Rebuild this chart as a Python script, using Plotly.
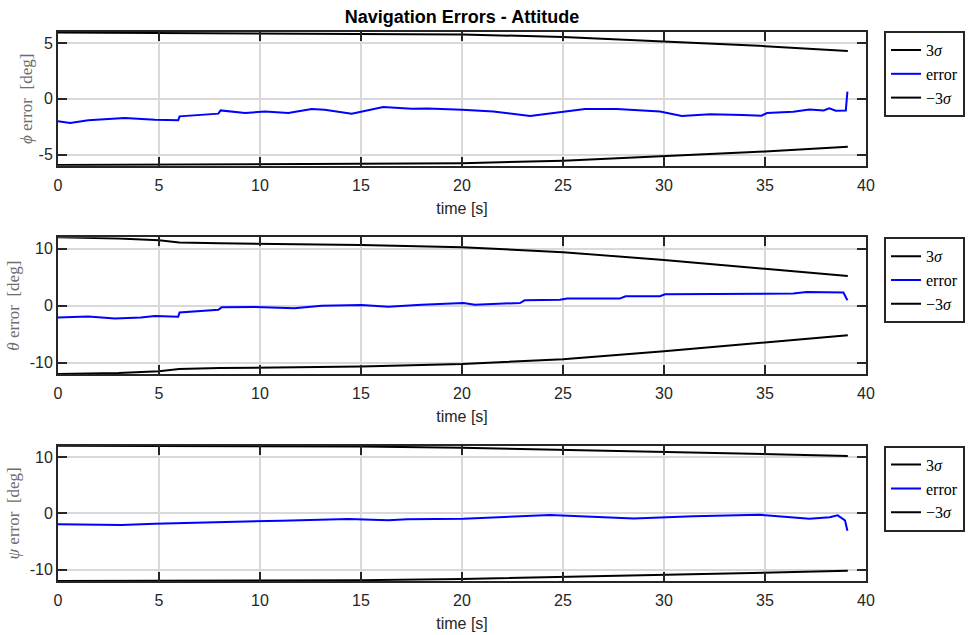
import plotly.graph_objects as go

# ---------------- data ----------------
t_phi_bound = [0, 5, 10, 15, 20, 25, 30, 35, 39.1]
phi_3sig = [5.95, 5.9, 5.88, 5.85, 5.78, 5.55, 5.17, 4.73, 4.29]

t_theta_bound = [0, 2, 3, 5, 6, 8, 10, 15, 20, 25, 30, 35, 39.1]
theta_3sig = [12.0, 11.95, 11.8, 11.5, 11.1, 10.95, 10.85, 10.67, 10.25, 9.4, 8.0, 6.5, 5.2]

t_psi_bound = [0, 5, 10, 15, 20, 25, 30, 35, 39.1]
psi_3sig = [12.0, 11.98, 11.95, 11.85, 11.65, 11.3, 10.95, 10.6, 10.2]

t_phi_err = [0, 0.6, 1.5, 3.3, 4.8, 5.95, 6.02, 7.0, 7.94, 8.05, 9.26, 10.25, 11.4, 12.56,
             13.2, 14.54, 16.1, 17.5, 18.3, 20.0, 21.55, 23.37, 24.85, 26.09, 27.66, 28.5,
             29.8, 30.88, 32.28, 33.9, 34.83, 35.1, 36.4, 37.2, 37.9, 38.18, 38.5, 39.0, 39.08]
phi_err = [-2.0, -2.16, -1.93, -1.72, -1.87, -1.93, -1.57, -1.45, -1.33, -1.04, -1.27, -1.13,
           -1.27, -0.92, -0.98, -1.33, -0.74, -0.89, -0.86, -0.98, -1.13, -1.54, -1.18, -0.92,
           -0.92, -0.98, -1.13, -1.54, -1.39, -1.45, -1.51, -1.27, -1.15, -0.95, -1.04, -0.86,
           -1.07, -1.04, 0.65]

t_theta_err = [0, 1.5, 2.82, 4.1, 4.8, 5.95, 6.02, 7.94, 8.1, 9.75, 11.7, 13.05, 15.03, 16.35,
               18.0, 20.07, 20.64, 22.87, 23.1, 24.85, 25.2, 27.8, 28.1, 29.8, 30.05, 33.1,
               36.4, 37.06, 38.88, 39.08]
theta_err = [-2.07, -1.9, -2.24, -2.07, -1.83, -1.95, -1.18, -0.71, -0.29, -0.24, -0.47, 0.0,
             0.12, -0.18, 0.18, 0.47, 0.18, 0.47, 0.94, 1.06, 1.24, 1.24, 1.65, 1.65, 2.0, 2.0,
             2.12, 2.42, 2.3, 0.94]

t_psi_err = [0, 3.15, 4.8, 7.28, 9.75, 11.07, 14.37, 16.35, 17.3, 20.07, 24.36, 28.5, 31.45,
             34.75, 37.2, 38.2, 38.6, 38.96, 39.08]
psi_err = [-1.94, -2.06, -1.83, -1.66, -1.48, -1.3, -1.0, -1.24, -1.06, -0.95, -0.3, -0.89,
           -0.5, -0.24, -0.94, -0.7, -0.35, -1.24, -3.07]

x_ticks = [0, 5, 10, 15, 20, 25, 30, 35, 40]
phi_ticks = [-5, 0, 5]
phi_ticktext = ["-5", "0", "5"]
big_ticks = [-10, 0, 10]
big_ticktext = ["-10", "0", "10"]

panels = [
    dict(tb=t_phi_bound, sb=phi_3sig, te=t_phi_err, e=phi_err, yr=[-6, 6],
         tv=phi_ticks, tt=phi_ticktext, lab="<i>ϕ</i> error  [deg]", dom=[0.7565, 1.0],
         ly=0.951, so=2),
    dict(tb=t_theta_bound, sb=theta_3sig, te=t_theta_err, e=theta_err, yr=[-12, 12],
         tv=big_ticks, tt=big_ticktext, lab="<i>θ</i> error  [deg]", dom=[0.377, 0.626],
         ly=0.6263, so=6),
    dict(tb=t_psi_bound, sb=psi_3sig, te=t_psi_err, e=psi_err, yr=[-12, 12],
         tv=big_ticks, tt=big_ticktext, lab="<i>ψ</i> error  [deg]", dom=[0.0, 0.2464],
         ly=0.2981, so=6),
]

fig = go.Figure()
axis_col = "#262626"
grid_col = "#d9d9d9"
tick_font = dict(family="Liberation Sans, Arial", size=16, color=axis_col)

for i, p in enumerate(panels):
    n = "" if i == 0 else str(i + 1)
    xa, ya = "x" + n, "y" + n
    leg = "legend" + n
    fig.add_trace(go.Scatter(x=p["tb"], y=p["sb"], mode="lines", name="3<i>σ</i>",
                             line=dict(color="black", width=2), xaxis=xa, yaxis=ya, legend=leg))
    fig.add_trace(go.Scatter(x=p["te"], y=p["e"], mode="lines", name="error",
                             line=dict(color="#0000ff", width=2), xaxis=xa, yaxis=ya, legend=leg))
    fig.add_trace(go.Scatter(x=p["tb"], y=[-v for v in p["sb"]], mode="lines", name="−3<i>σ</i>",
                             line=dict(color="black", width=2), xaxis=xa, yaxis=ya, legend=leg))

    fig.update_layout(**{
        "xaxis" + n: dict(domain=[0, 1], anchor=ya, range=[0, 40], tickvals=x_ticks,
                          ticks="inside", ticklen=9, tickwidth=2, tickcolor=axis_col,
                          showline=True, linecolor=axis_col, linewidth=2, mirror="ticks",
                          showgrid=True, gridcolor=grid_col, gridwidth=1.5, zeroline=False,
                          tickfont=tick_font, ticklabelstandoff=4,
                          title=dict(text="time [s]", font=tick_font, standoff=10)),
        "yaxis" + n: dict(domain=p["dom"], anchor=xa, range=p["yr"], tickvals=p["tv"],
                          ticktext=p["tt"], ticks="inside", ticklen=9, tickwidth=2,
                          tickcolor=axis_col, showline=True, linecolor=axis_col, linewidth=2,
                          mirror="ticks", showgrid=True, gridcolor=grid_col, gridwidth=1.5,
                          zeroline=False, tickfont=tick_font,
                          title=dict(text=p["lab"], standoff=p["so"],
                                     font=dict(family="Liberation Serif, Times New Roman",
                                               size=17, color="#6e6e6e"))),
        leg: dict(xref="container", yref="container", x=0.9123, y=p["ly"],
                  xanchor="left", yanchor="top",
                  bgcolor="white", bordercolor=axis_col, borderwidth=2,
                  font=dict(family="Liberation Serif, Times New Roman", size=16, color="black"),
                  itemwidth=30, tracegroupgap=0),
    })

fig.update_layout(
    width=969, height=635,
    margin=dict(l=58, r=103, t=32, b=54, autoexpand=False),
    paper_bgcolor="white", plot_bgcolor="white",
    showlegend=True,
    title=dict(text="<b>Navigation Errors - Attitude</b>", x=0.4768, xanchor="center",
               y=0.973, yanchor="middle",
               font=dict(family="Liberation Sans, Arial", size=18, color="black")),
)

fig.write_html("out.html")
